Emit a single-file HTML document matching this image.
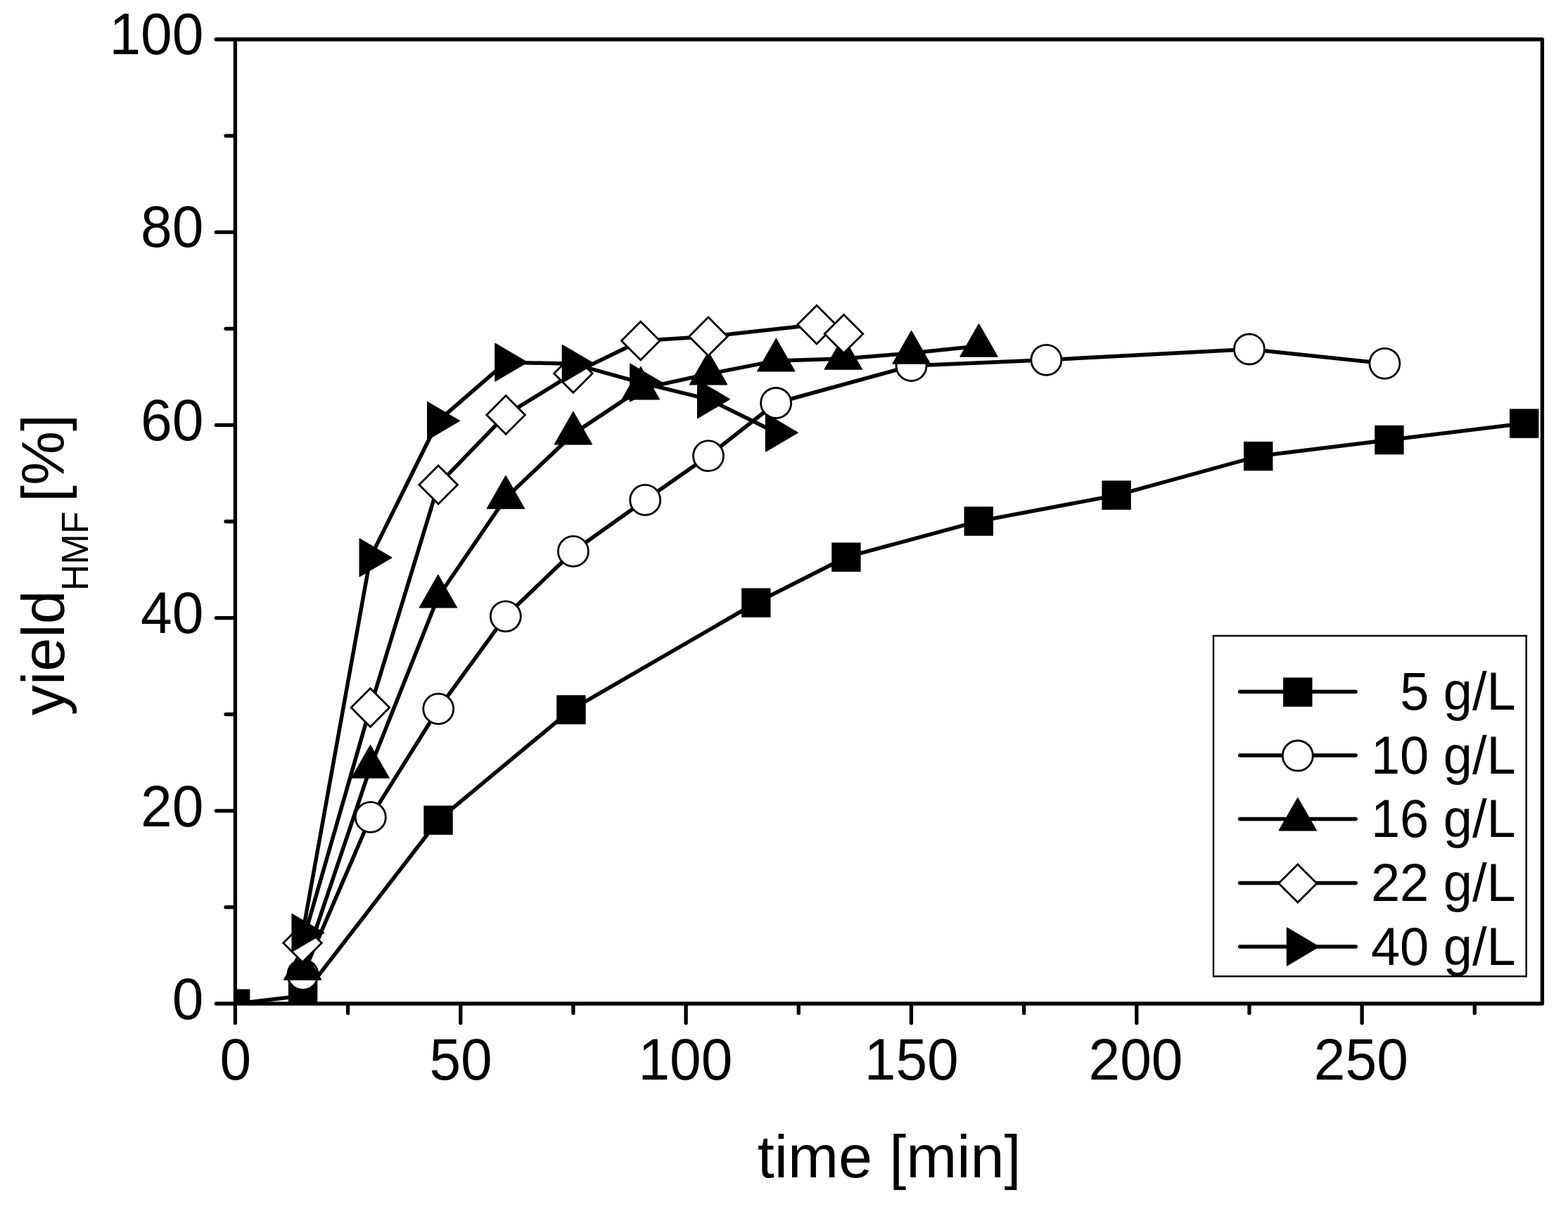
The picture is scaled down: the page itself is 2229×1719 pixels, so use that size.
<!DOCTYPE html>
<html><head><meta charset="utf-8"><title>HMF yield vs time</title>
<style>html,body{margin:0;padding:0;background:#fff;}svg{display:block;}</style></head><body>
<svg width="2229" height="1719" viewBox="0 0 2229 1719">
<rect width="2229" height="1719" fill="#fff"/>
<defs><clipPath id="pa"><rect x="334.4" y="56" width="1858" height="1371"/></clipPath></defs>
<g clip-path="url(#pa)" fill="none" stroke="#000" stroke-width="5.5" stroke-linejoin="round" stroke-linecap="round">
<polyline points="334.6,1427.2 430.6,1415.8 623,1166.2 811.9,1009.1 1074.8,857 1202.9,792.2 1391.2,741.1 1587.1,704.1 1788.7,648.6 1974.9,625.5 2166.7,602.1"/>
<polyline points="430.5,1385.8 526.8,1161.9 623.2,1007.9 718.8,876.3 814.9,783.9 917.2,710.9 1007,648.2 1103.1,573 1295.5,520.1 1487.4,511.8 1775.9,496.5 1968.4,516.8"/>
<polyline points="430,1378 526.5,1091 622.8,848.8 718.9,708 814.9,616.9 910.8,552.9 1007,531.7 1103.3,512.9 1198.8,510.1 1295.6,502 1391.5,492.1"/>
<polyline points="430,1340.8 526.4,1006.1 623.1,689.2 719.1,589.9 814.9,530.9 910.7,484.5 1006.9,478.4 1161,461.6 1199.5,474.8"/>
<polyline points="430.4,1326.3 526.5,792.8 623,598.3 719.2,515.1 814.7,517.3 911.1,544.2 1007,567.6 1103.8,615.2"/>
</g>
<g clip-path="url(#pa)">
<g fill="#000"><rect x="313.9" y="1406.5" width="41.4" height="41.4"/><rect x="409.9" y="1395.1" width="41.4" height="41.4"/><rect x="602.3" y="1145.5" width="41.4" height="41.4"/><rect x="791.2" y="988.4" width="41.4" height="41.4"/><rect x="1054.1" y="836.3" width="41.4" height="41.4"/><rect x="1182.2" y="771.5" width="41.4" height="41.4"/><rect x="1370.5" y="720.4" width="41.4" height="41.4"/><rect x="1566.4" y="683.4" width="41.4" height="41.4"/><rect x="1768" y="627.9" width="41.4" height="41.4"/><rect x="1954.2" y="604.8" width="41.4" height="41.4"/><rect x="2146" y="581.4" width="41.4" height="41.4"/></g>
<g fill="#fff" stroke="#000" stroke-width="2.8"><circle cx="430.5" cy="1385.8" r="21.5"/><circle cx="526.8" cy="1161.9" r="21.5"/><circle cx="623.2" cy="1007.9" r="21.5"/><circle cx="718.8" cy="876.3" r="21.5"/><circle cx="814.9" cy="783.9" r="21.5"/><circle cx="917.2" cy="710.9" r="21.5"/><circle cx="1007" cy="648.2" r="21.5"/><circle cx="1103.1" cy="573" r="21.5"/><circle cx="1295.5" cy="520.1" r="21.5"/><circle cx="1487.4" cy="511.8" r="21.5"/><circle cx="1775.9" cy="496.5" r="21.5"/><circle cx="1968.4" cy="516.8" r="21.5"/></g>
<g fill="#000" stroke="#000" stroke-width="1.4" stroke-linejoin="round"><path d="M430 1346.7L456.5 1393L403.5 1393Z"/><path d="M526.5 1059.7L553 1106L500 1106Z"/><path d="M622.8 817.5L649.3 863.8L596.3 863.8Z"/><path d="M718.9 676.7L745.4 723L692.4 723Z"/><path d="M814.9 585.6L841.4 631.9L788.4 631.9Z"/><path d="M910.8 521.6L937.3 567.9L884.3 567.9Z"/><path d="M1007 500.4L1033.5 546.7L980.5 546.7Z"/><path d="M1103.3 481.6L1129.8 527.9L1076.8 527.9Z"/><path d="M1198.8 478.8L1225.3 525.1L1172.3 525.1Z"/><path d="M1295.6 470.7L1322.1 517L1269.1 517Z"/><path d="M1391.5 460.8L1418 507.1L1365 507.1Z"/></g>
<g fill="#fff" stroke="#000" stroke-width="2.8" stroke-linejoin="miter"><path d="M402.7 1340.8L430 1313.5L457.3 1340.8L430 1368.1Z"/><path d="M499.1 1006.1L526.4 978.8L553.7 1006.1L526.4 1033.4Z"/><path d="M595.8 689.2L623.1 661.9L650.4 689.2L623.1 716.5Z"/><path d="M691.8 589.9L719.1 562.6L746.4 589.9L719.1 617.2Z"/><path d="M787.6 530.9L814.9 503.6L842.2 530.9L814.9 558.2Z"/><path d="M883.4 484.5L910.7 457.2L938 484.5L910.7 511.8Z"/><path d="M979.6 478.4L1006.9 451.1L1034.2 478.4L1006.9 505.7Z"/><path d="M1133.7 461.6L1161 434.3L1188.3 461.6L1161 488.9Z"/><path d="M1172.2 474.8L1199.5 447.5L1226.8 474.8L1199.5 502.1Z"/></g>
<g fill="#000" stroke="#000" stroke-width="1.4" stroke-linejoin="round"><path d="M415.1 1299.5L460.6 1326.3L415.1 1353.1Z"/><path d="M511.2 766L556.7 792.8L511.2 819.6Z"/><path d="M607.7 571.5L653.2 598.3L607.7 625.1Z"/><path d="M703.9 488.3L749.4 515.1L703.9 541.9Z"/><path d="M799.4 490.5L844.9 517.3L799.4 544.1Z"/><path d="M895.8 517.4L941.3 544.2L895.8 571Z"/><path d="M991.7 540.8L1037.2 567.6L991.7 594.4Z"/><path d="M1088.5 588.4L1134 615.2L1088.5 642Z"/></g>
</g>
<g fill="none" stroke="#000" stroke-width="5.3" stroke-linecap="round" stroke-linejoin="round">
<path d="M334.4 1427L2192.4 1427L2192.4 56L334.4 56Z"/>
<path d="M334.4 1427H307.3M334.4 1289.9H321M334.4 1152.8H307.3M334.4 1015.7H321M334.4 878.6H307.3M334.4 741.5H321M334.4 604.4H307.3M334.4 467.3H321M334.4 330.2H307.3M334.4 193.1H321M334.4 56H307.3M334.4 1427V1454.6M494.57 1427V1440.6M654.74 1427V1454.6M814.92 1427V1440.6M975.09 1427V1454.6M1135.26 1427V1440.6M1295.43 1427V1454.6M1455.61 1427V1440.6M1615.78 1427V1454.6M1775.95 1427V1440.6M1936.12 1427V1454.6M2096.3 1427V1440.6"/>
</g>
<g font-family="'Liberation Sans', Arial, sans-serif" font-size="80.3" fill="#000">
<text transform="translate(289.4 1449.3) scale(1 1.035)" text-anchor="end">0</text>
<text transform="translate(289.4 1174.8) scale(1 1.035)" text-anchor="end">20</text>
<text transform="translate(289.4 900.3) scale(1 1.035)" text-anchor="end">40</text>
<text transform="translate(289.4 625.8) scale(1 1.035)" text-anchor="end">60</text>
<text transform="translate(289.4 351.3) scale(1 1.035)" text-anchor="end">80</text>
<text transform="translate(289.4 76.8) scale(1 1.035)" text-anchor="end">100</text>
<text transform="translate(334.7 1535.2) scale(1 1.035)" text-anchor="middle">0</text>
<text transform="translate(655.04 1535.2) scale(1 1.035)" text-anchor="middle">50</text>
<text transform="translate(974.39 1535.2) scale(1 1.035)" text-anchor="middle">100</text>
<text transform="translate(1295.73 1535.2) scale(1 1.035)" text-anchor="middle">150</text>
<text transform="translate(1614.48 1535.2) scale(1 1.035)" text-anchor="middle">200</text>
<text transform="translate(1934.82 1535.2) scale(1 1.035)" text-anchor="middle">250</text>
</g>
<text font-family="'Liberation Sans', Arial, sans-serif" font-size="86.5" transform="translate(1076.8 1673.6) scale(1 0.98)">time [min]</text>
<g font-family="'Liberation Sans', Arial, sans-serif" fill="#000">
<text font-size="86.5" transform="translate(91.05 0) rotate(-90) scale(1 0.985)" x="-1017.3" y="0">yield</text>
<text font-size="52" transform="translate(125 0) rotate(-90) scale(1 1.04)" x="-840" y="0">HMF</text>
<text font-size="86.5" transform="translate(91.05 0) rotate(-90) scale(1 0.985)" x="-713.9" y="0">[%]</text>
</g>
<rect x="1725" y="904" width="444.7" height="484.2" fill="#fff" stroke="#000" stroke-width="2.4"/>
<g stroke="#000" stroke-width="5.5" stroke-linecap="round">
<line x1="1762.6" y1="983.6" x2="1927.1" y2="983.6"/>
<line x1="1762.6" y1="1074" x2="1927.1" y2="1074"/>
<line x1="1762.6" y1="1164.4" x2="1927.1" y2="1164.4"/>
<line x1="1762.6" y1="1255.5" x2="1927.1" y2="1255.5"/>
<line x1="1762.6" y1="1346" x2="1927.1" y2="1346"/>
</g>
<g fill="#000"><rect x="1824.1" y="963.4" width="41.4" height="41.4"/></g>
<g fill="#fff" stroke="#000" stroke-width="2.8"><circle cx="1844.8" cy="1074.5" r="21.5"/></g>
<g fill="#000" stroke="#000" stroke-width="1.4" stroke-linejoin="round"><path d="M1844.8 1134.6L1871.3 1180.9L1818.3 1180.9Z"/></g>
<g fill="#fff" stroke="#000" stroke-width="2.8" stroke-linejoin="miter"><path d="M1817.7 1256L1844.8 1228.9L1871.9 1256L1844.8 1283.1Z"/></g>
<g fill="#000" stroke="#000" stroke-width="1.4" stroke-linejoin="round"><path d="M1829.5 1319.2L1875 1346L1829.5 1372.8Z"/></g>
<g font-family="'Liberation Sans', Arial, sans-serif" font-size="74" fill="#000" text-anchor="end">
<text transform="translate(2154.7 1009.4) scale(1 1.02)">5 g/L</text>
<text transform="translate(2154.7 1099.8) scale(1 1.02)">10 g/L</text>
<text transform="translate(2154.7 1190.2) scale(1 1.02)">16 g/L</text>
<text transform="translate(2154.7 1281.3) scale(1 1.02)">22 g/L</text>
<text transform="translate(2154.7 1371.8) scale(1 1.02)">40 g/L</text>
</g>
</svg></body></html>
